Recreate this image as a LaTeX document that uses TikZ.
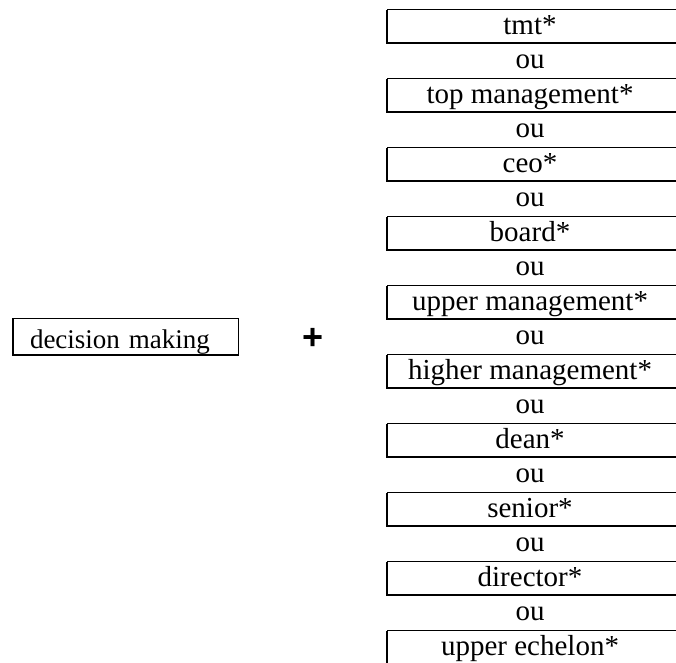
\documentclass[tikz,border=0pt]{standalone}
\usepackage{fontspec}
\setmainfont{Liberation Serif}
\setsansfont{Liberation Sans}
\usetikzlibrary{positioning}
\tikzset{
  term/.style={minimum width=286pt, minimum height=33pt, inner sep=0pt, outer sep=0pt,
    text height=24.5pt, text depth=8.5pt, font=\fontsize{29}{33}\selectfont},
  orword/.style={minimum height=36pt, inner sep=0pt, outer sep=0pt,
    text height=25.5pt, text depth=10.5pt, font=\fontsize{29}{33}\selectfont},
  thinline/.style={line width=1pt},
  thickline/.style={line width=2pt}
}
\begin{document}
\begin{tikzpicture}[x=1pt,y=-1pt]
        \useasboundingbox (0,0) rectangle (676,662);
        \node
          [draw=none, minimum width=225pt, minimum height=36pt, inner ysep=0pt,
           inner xsep=17pt, text width=191pt, align=left,
           text height=29.3pt, text depth=6.7pt, font=\fontsize{27}{31}\selectfont]
          (decision) at (125.5,337) {decision making};
        \draw [thinline]
          (decision.north west) rectangle (decision.south east)
        ;
        \draw [thickline]
          (decision.north west)
          -- (decision.south west)
          -- (decision.south east)
        ;
        \node
          [font=\sffamily\bfseries\fontsize{36}{40}\selectfont]
          (plus) at (313.5,338.5) {+};
        \node [term] (tmt) at (530,26.2) {tmt*};
        \node [orword, below=0pt of tmt] (or1) {ou};
        \node [term, below=0pt of or1] (topmgmt) {top management*};
        \node [orword, below=0pt of topmgmt] (or2) {ou};
        \node [term, below=0pt of or2] (ceo) {ceo*};
        \node [orword, below=0pt of ceo] (or3) {ou};
        \node [term, below=0pt of or3] (board) {board*};
        \node [orword, below=0pt of board] (or4) {ou};
        \node [term, below=0pt of or4] (uppermgmt) {upper management*};
        \node [orword, below=0pt of uppermgmt] (or5) {ou};
        \node [term, below=0pt of or5] (highermgmt) {higher management*};
        \node [orword, below=0pt of highermgmt] (or6) {ou};
        \node [term, below=0pt of or6] (dean) {dean*};
        \node [orword, below=0pt of dean] (or7) {ou};
        \node [term, below=0pt of or7] (senior) {senior*};
        \node [orword, below=0pt of senior] (or8) {ou};
        \node [term, below=0pt of or8] (director) {director*};
        \node [orword, below=0pt of director] (or9) {ou};
        \node [term, below=0pt of or9] (echelon) {upper echelon*};
        \foreach \n in {tmt,topmgmt,ceo,board,uppermgmt,highermgmt,dean,senior,director,echelon}{
          \draw [thinline]
            ([xshift=8pt]\n.north east)
            -- (\n.north west)
          ;
          \draw [thickline]
            (\n.north west)
            -- (\n.south west)
            -- ([xshift=8pt]\n.south east)
          ;
        }
      \end{tikzpicture}
\end{document}
